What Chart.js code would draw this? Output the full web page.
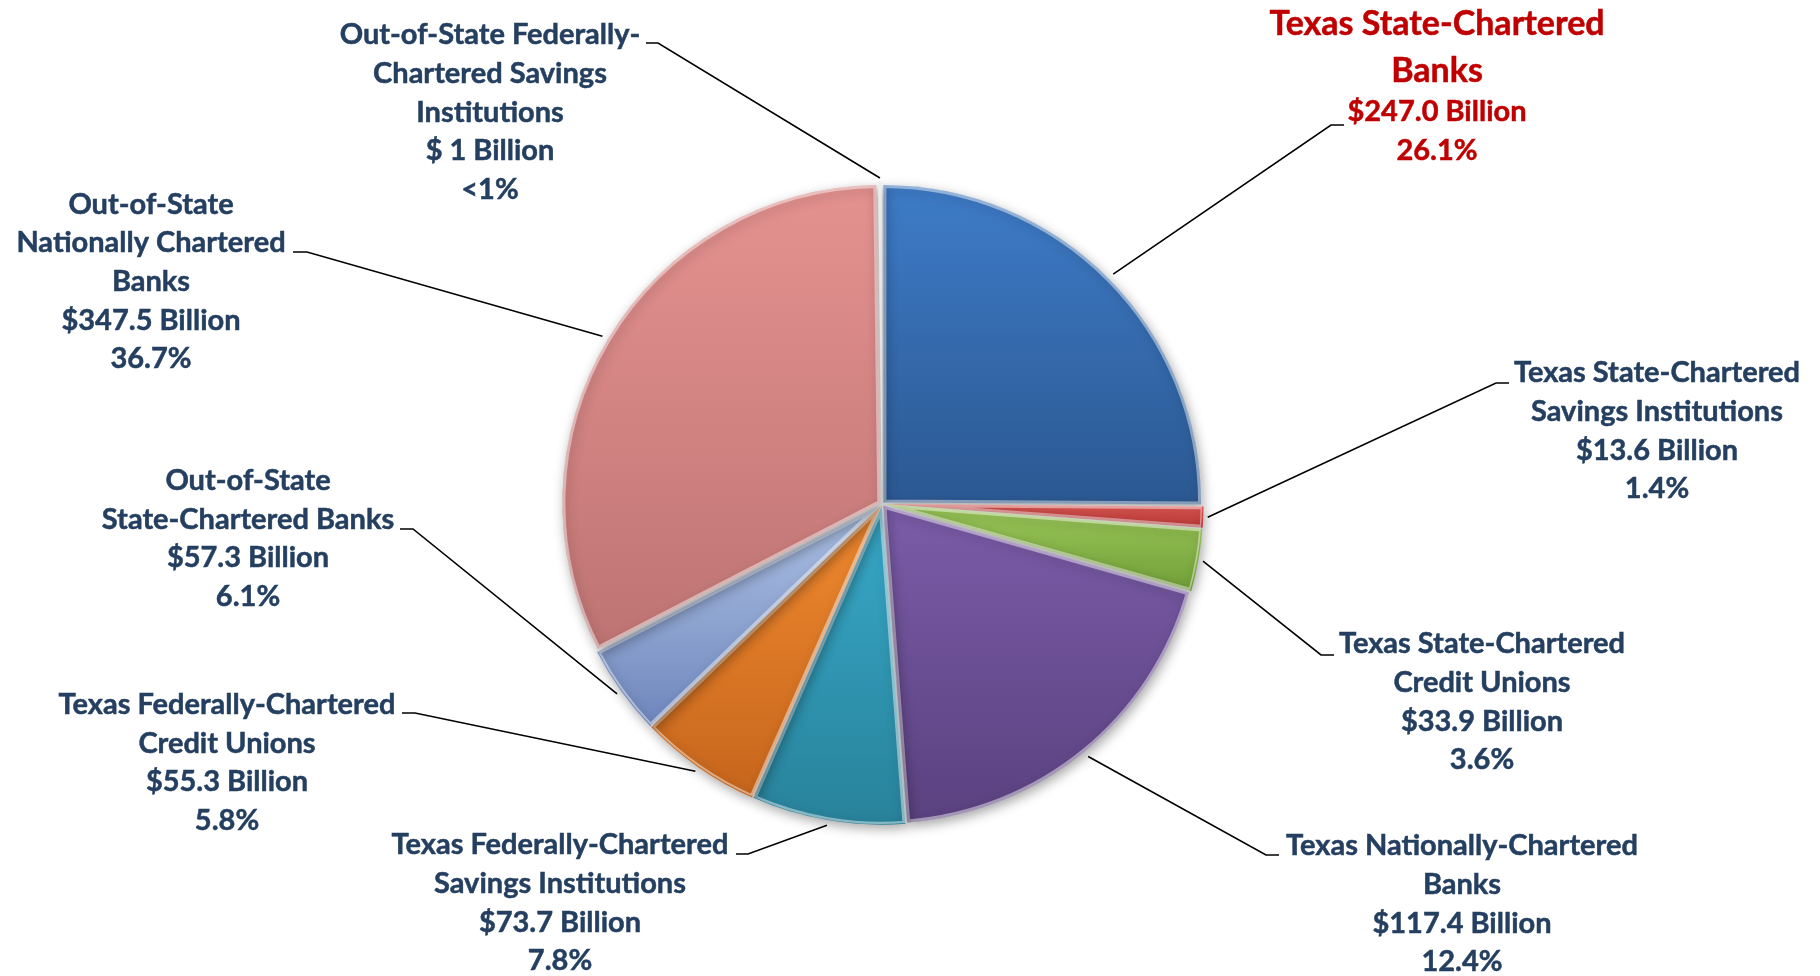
<!DOCTYPE html>
<html lang="en">
<head>
    <meta charset="UTF-8">
    <title>Ativos por tipo de instituicao</title>
    <script src="https://cdn.jsdelivr.net/npm/chart.js"></script>
    <style>
        body { margin: 0; background: #ffffff; }
        #graficoPizza { display: block; }
    </style>
</head>
<body>
    <canvas id="graficoPizza" width="1820" height="976"></canvas>
<script>

// tamanho das fatias como estao desenhadas (lido pelo angulo de cada fatia)
const fatias = [25.1, 1.1, 3.2, 19.4, 7.8, 6.2, 4.6, 32.4, 0.2];

// textos dos rotulos
const nomes = [
    ['Texas State-Chartered', 'Banks'],
    ['Texas State-Chartered', 'Savings Institutions'],
    ['Texas State-Chartered', 'Credit Unions'],
    ['Texas Nationally-Chartered', 'Banks'],
    ['Texas Federally-Chartered', 'Savings Institutions'],
    ['Texas Federally-Chartered', 'Credit Unions'],
    ['Out-of-State', 'State-Chartered Banks'],
    ['Out-of-State', 'Nationally Chartered', 'Banks'],
    ['Out-of-State Federally-', 'Chartered Savings', 'Institutions']
];
const valores = ['$247.0 Billion', '$13.6 Billion', '$33.9 Billion', '$117.4 Billion', '$73.7 Billion',
    '$55.3 Billion', '$57.3 Billion', '$347.5 Billion', '$ 1 Billion'];
const percentuais = ['26.1%', '1.4%', '3.6%', '12.4%', '7.8%', '5.8%', '6.1%', '36.7%', '<1%'];

// cores (topo -> base de cada fatia)
const coresTopo = ['#3E7CC8', '#E45A56', '#9CC95A', '#7B5CA8', '#38A9C9', '#F08A30', '#AEC3E6', '#E59290', '#EEEEEE'];
const coresBase = ['#2B5891', '#B93735', '#719E37', '#5A417F', '#28829A', '#C6651C', '#6F86BC', '#BD7473', '#D0D0D0'];

// posicao dos rotulos: centro x, y da primeira linha e traco horizontal [x1, x2, y]
const rotulos = [
    { x: 1437, ys: [24, 71, 112, 150.5], traco: [1331, 1344, 125], destaque: true },
    { x: 1657, y: 373, traco: [1496, 1509, 383] },
    { x: 1482, y: 644, traco: [1321, 1334, 655] },
    { x: 1462, y: 846, traco: [1266, 1279, 855] },
    { x: 560, y: 845, traco: [736, 748, 854] },
    { x: 227, y: 704.5, traco: [402, 415, 713] },
    { x: 248, y: 480.5, traco: [400, 413, 529] },
    { x: 151, y: 204.3, traco: [293, 307, 252] },
    { x: 490, y: 34.8, traco: [646, 658, 43] }
];
const passoLinha = 38.7;

function preencherFatia(context) {
    const i = context.dataIndex;
    if (i === undefined) return '#cccccc';
    const arco = context.element;
    if (!arco || arco.outerRadius === undefined) return coresTopo[i];

    // gradiente vertical do topo ate a base da propria fatia
    let topo = arco.y, base = arco.y;
    for (let k = 0; k <= 24; k++) {
        const a = arco.startAngle + (arco.endAngle - arco.startAngle) * k / 24;
        const y = arco.y + Math.sin(a) * arco.outerRadius;
        topo = Math.min(topo, y);
        base = Math.max(base, y);
    }
    const grad = context.chart.ctx.createLinearGradient(0, topo, 0, base + 1);
    grad.addColorStop(0, coresTopo[i]);
    grad.addColorStop(1, coresBase[i]);
    return grad;
}

// sombra leve embaixo das fatias
const pluginSombra = {
    id: 'sombra',
    beforeDatasetsDraw(chart) {
        const ctx = chart.ctx;
        ctx.save();
        ctx.shadowColor = 'rgba(0, 0, 0, 0.35)';
        ctx.shadowBlur = 12;
        ctx.shadowOffsetX = 2;
        ctx.shadowOffsetY = 4;
    },
    afterDatasetsDraw(chart) {
        chart.ctx.restore();
    }
};

// rotulos com linha de chamada
const pluginRotulos = {
    id: 'rotulos',
    afterDraw(chart) {
        const ctx = chart.ctx;
        const arcos = chart.getDatasetMeta(0).data;
        ctx.save();
        ctx.textAlign = 'center';
        ctx.textBaseline = 'middle';

        for (let i = 0; i < rotulos.length; i++) {
            const r = rotulos[i];
            const arco = arcos[i];
            const meio = (arco.startAngle + arco.endAngle) / 2;
            const raio = arco.outerRadius + arco.options.offset;
            const px = arco.x + Math.cos(meio) * raio;
            const py = arco.y + Math.sin(meio) * raio;

            const perto = (r.traco[0] + r.traco[1]) / 2 > arco.x ? r.traco[0] : r.traco[1];
            const longe = perto === r.traco[0] ? r.traco[1] : r.traco[0];
            ctx.beginPath();
            ctx.moveTo(longe, r.traco[2]);
            ctx.lineTo(perto, r.traco[2]);
            ctx.lineTo(px, py);
            ctx.strokeStyle = '#000000';
            ctx.lineWidth = 1.6;
            ctx.stroke();

            const linhas = nomes[i].concat([valores[i], percentuais[i]]);
            linhas.forEach(function (texto, k) {
                const y = r.ys ? r.ys[k] : r.y + k * passoLinha;
                const grande = r.destaque && k < nomes[i].length;
                const cor = r.destaque ? '#C00000' : '#243F60';
                ctx.font = 'bold ' + (grande ? 34 : 29) + 'px Lato';
                ctx.fillStyle = cor;
                ctx.strokeStyle = cor;
                ctx.lineWidth = 0.5;
                ctx.fillText(texto, r.x, y);
                ctx.strokeText(texto, r.x, y);
            });
        }
        ctx.restore();
    }
};

const configPizza = {
    type: 'pie',
    data: {
        labels: nomes.map(n => n.join(' ')),
        datasets: [{
            data: fatias,
            backgroundColor: preencherFatia,
            borderColor: 'rgba(255, 255, 255, 0.45)',
            borderWidth: 3,
            borderAlign: 'inner',
            offset: 8,
            hoverOffset: 8
        }]
    },
    options: {
        responsive: false,
        animation: false,
        events: [],
        layout: { padding: { top: 182, bottom: 150, left: 560, right: 616 } },
        plugins: {
            legend: { display: false },
            tooltip: { enabled: false }
        }
    },
    plugins: [pluginSombra, pluginRotulos]
};

let graficoPizza = new Chart(document.getElementById('graficoPizza'), configPizza);
// segunda passada para o gradiente usar a geometria das fatias
graficoPizza.update('none');

</script>
</body>
</html>
